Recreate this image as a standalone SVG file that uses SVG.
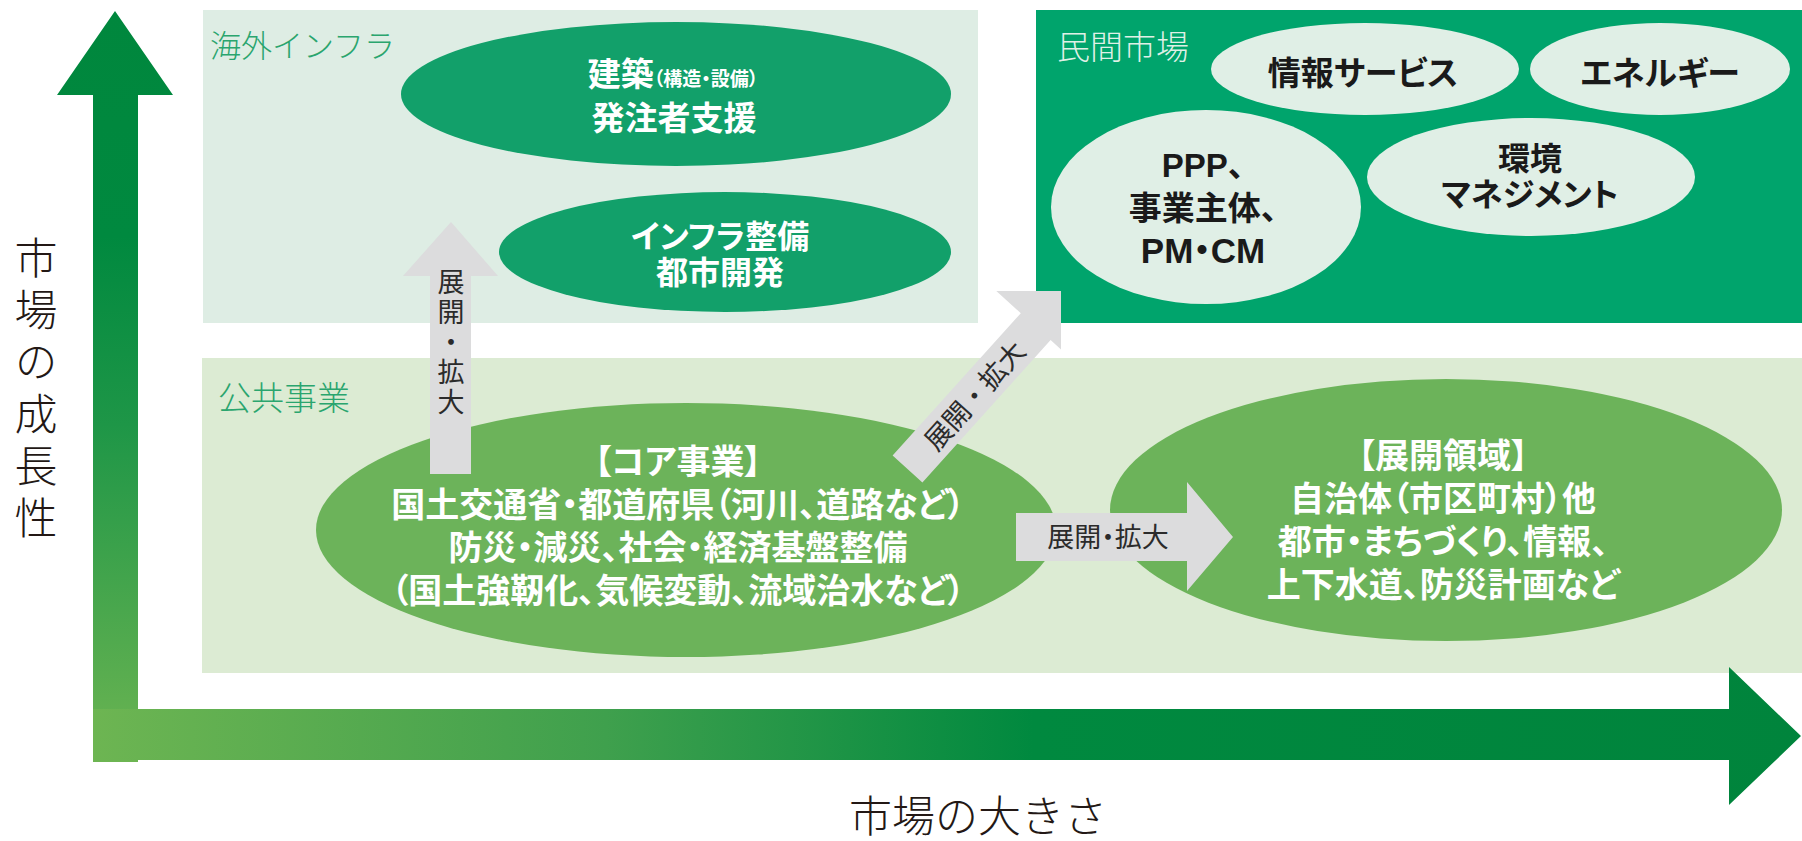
<svg xmlns="http://www.w3.org/2000/svg" width="1802" height="841" viewBox="0 0 1802 841">
<style>
text{font-family:"Noto Sans CJK JP","Noto Sans CJK SC",sans-serif}
.axis{font-size:43px;font-weight:300;fill:#231815}
.plbl{font-weight:300}
.wt,.dk{font-family:"Liberation Sans","Noto Sans CJK JP","Noto Sans CJK SC",sans-serif;font-weight:700;text-anchor:middle;font-feature-settings:"palt" 1}
.wt{fill:#ffffff}
.dk{fill:#1a1a1a}
.gt{fill:#2b2b2b;font-weight:400;text-anchor:middle}
.vt{writing-mode:vertical-rl;text-anchor:start}
.garrow{fill:#dcdcdd}
.mid{fill:#6cb35a}
.pale{fill:#e0efe6}
</style>
<defs>
<linearGradient id="gv" gradientUnits="userSpaceOnUse" x1="0" y1="762" x2="0" y2="11">
<stop offset="0" stop-color="#6db552"/>
<stop offset="0.45" stop-color="#1e9647"/>
<stop offset="0.7" stop-color="#00893f"/>
<stop offset="1" stop-color="#00873d"/>
</linearGradient>
<linearGradient id="gh" gradientUnits="userSpaceOnUse" x1="93" y1="0" x2="1802" y2="0">
<stop offset="0" stop-color="#6db552"/>
<stop offset="0.3" stop-color="#3fa04d"/>
<stop offset="0.55" stop-color="#00893f"/>
<stop offset="1" stop-color="#00843c"/>
</linearGradient>
<clipPath id="clipDiag"><rect x="0" y="291" width="1061" height="550"/></clipPath>
</defs>

<g id="panel-overseas">
<rect x="203" y="10" width="775" height="313" fill="#deede4"/>
<text class="plbl" x="210" y="57" font-size="31" fill="#2aa56e">海外インフラ</text>
</g>
<g id="panel-private">
<rect x="1036" y="10" width="766" height="313" fill="#00a46c"/>
<text class="plbl" x="1057" y="59" font-size="33" fill="#dff0e6">民間市場</text>
</g>
<g id="panel-public">
<rect x="202" y="358" width="1600" height="315" fill="#dcebd3"/>
<text class="plbl" x="218" y="410" font-size="33" fill="#2aa56e">公共事業</text>
</g>

<g id="node-kenchiku">
<ellipse cx="676" cy="94" rx="275" ry="72" fill="#12a06a"/>
<text class="wt"><tspan x="673" y="86" font-size="33">建築</tspan><tspan font-size="19">（構造・設備）</tspan><tspan x="674" y="130" font-size="33">発注者支援</tspan></text>
</g>
<g id="node-infra">
<ellipse cx="725" cy="252" rx="226" ry="60" fill="#12a06a"/>
<text class="wt" font-size="32"><tspan x="720" y="248">インフラ整備</tspan><tspan x="720" y="284">都市開発</tspan></text>
</g>

<g id="node-joho">
<ellipse class="pale" cx="1365" cy="69" rx="154" ry="46"/>
<text class="dk" x="1363" y="85" font-size="33">情報サービス</text>
</g>
<g id="node-energy">
<ellipse class="pale" cx="1660" cy="69" rx="130" ry="46"/>
<text class="dk" x="1660" y="85" font-size="33">エネルギー</text>
</g>
<g id="node-ppp">
<ellipse class="pale" cx="1206" cy="207" rx="155" ry="97"/>
<text class="dk" font-size="33"><tspan x="1203" y="177">PPP、</tspan><tspan x="1203" y="220">事業主体、</tspan><tspan x="1203" y="263" font-size="35">PM・CM</tspan></text>
</g>
<g id="node-kankyo">
<ellipse class="pale" cx="1531" cy="177" rx="164" ry="59"/>
<text class="dk" font-size="32"><tspan x="1530" y="170">環境</tspan><tspan x="1530" y="206">マネジメント</tspan></text>
</g>

<g id="node-core">
<ellipse class="mid" cx="686" cy="530" rx="370" ry="127"/>
<text class="wt" font-size="34"><tspan x="678" y="474">【コア事業】</tspan><tspan x="678" y="517">国土交通省・都道府県（河川、道路など）</tspan><tspan x="678" y="560">防災・減災、社会・経済基盤整備</tspan><tspan x="678" y="603">（国土強靭化、気候変動、流域治水など）</tspan></text>
</g>
<g id="node-expand">
<ellipse class="mid" cx="1446" cy="510" rx="336" ry="131"/>
<text class="wt" font-size="34"><tspan x="1443" y="468">【展開領域】</tspan><tspan x="1443" y="511">自治体（市区町村）他</tspan><tspan x="1443" y="554">都市・まちづくり、情報、</tspan><tspan x="1443" y="597">上下水道、防災計画など</tspan></text>
</g>

<g id="connectors">
<g id="arrow-up">
<polygon class="garrow" points="430,474 430,276 403,276 451,222 498,276 471,276 471,474"/>
<text class="gt vt" x="451" y="268" font-size="27" letter-spacing="3">展開・拡大</text>
</g>
<g id="arrow-diag">
<polygon class="garrow" clip-path="url(#clipDiag)" points="892.6,455.6 1020.8,313.2 996.3,291.1 1073.2,285 1075.1,362.1 1050.6,340 922.4,482.4"/>
<text class="gt" font-size="27" transform="translate(975,396) rotate(-48)" x="0" y="9.5">展開・拡大</text>
</g>
<g id="arrow-right">
<polygon class="garrow" points="1016,513 1187,513 1187,482 1233,537 1187,591 1187,561 1016,561"/>
<text class="gt" x="1108" y="547" font-size="27" style="font-feature-settings:'palt' 1">展開・拡大</text>
</g>
</g>

<g id="axes">
<polygon fill="url(#gv)" points="93,762 93,95 57,95 115,11 173,95 138,95 138,762"/>
<polygon fill="url(#gh)" points="93,709 1729,709 1729,667 1801,736 1729,805 1729,760 93,760"/>
<text class="axis vt" x="36" y="236" letter-spacing="9">市場の成長性</text>
<text class="axis" x="978" y="832" text-anchor="middle">市場の大きさ</text>
</g>
</svg>
